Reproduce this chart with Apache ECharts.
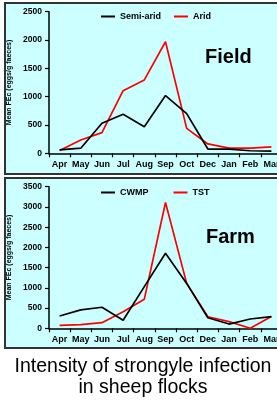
<!DOCTYPE html>
<html>
<head>
<meta charset="utf-8">
<script src="https://cdn.jsdelivr.net/npm/echarts@6/dist/echarts.min.js"></script>
<style>
    html, body {
        margin: 0;
        padding: 0;
        background: #fff;
    }
    #chart {
        width: 277px;
        height: 400px;
    }
</style>
</head>
<body>
<div id="chart"></div>
<script>
// months on both panels (no Nov in the source)
const months = ['Apr', 'May', 'Jun', 'Jul', 'Aug', 'Sep', 'Oct', 'Dec', 'Jan', 'Feb', 'Mar']

// Field panel
const semiArid = [60, 90, 530, 690, 470, 1020, 700, 75, 75, 45, 40]
const arid = [50, 235, 365, 1105, 1295, 1970, 440, 165, 90, 90, 115]

// Farm panel
const cwmp = [305, 455, 520, 200, 1030, 1855, 1110, 260, 105, 230, 290]
const tst = [70, 90, 140, 410, 720, 3110, 1110, 285, 165, 0, 290]

const fieldTicks = { min: 0, max: 2500, interval: 500 }
const farmTicks = { min: 0, max: 3500, interval: 500 }

const font = 'Liberation Sans, Arial, sans-serif'
const panelBg = '#ccffff'

function xAxisCfg(gridIndex) {
    return {
        type: 'category',
        gridIndex: gridIndex,
        data: months,
        boundaryGap: true,
        axisLine: { lineStyle: { color: '#000', width: 1.5 } },
        axisTick: { show: true, length: 4, lineStyle: { color: '#000', width: 1.2 } },
        axisLabel: {
            color: '#000',
            fontFamily: font,
            fontWeight: 'bold',
            fontSize: 9,
            margin: 7,
            interval: 0
        }
    }
}

function yAxisCfg(gridIndex, ticks) {
    return {
        type: 'value',
        gridIndex: gridIndex,
        min: ticks.min,
        max: ticks.max,
        interval: ticks.interval,
        name: 'Mean FEc (eggs/g faeces)',
        nameLocation: 'middle',
        nameGap: 33,
        nameTextStyle: {
            color: '#000',
            fontFamily: font,
            fontWeight: 'bold',
            fontSize: 7
        },
        axisLine: { show: true, lineStyle: { color: '#000', width: 1.5 } },
        axisTick: { show: true, length: 4, lineStyle: { color: '#000', width: 1.2 } },
        axisLabel: {
            color: '#000',
            fontFamily: font,
            fontWeight: 'bold',
            fontSize: 8.5,
            margin: 7,
            formatter: v => String(v) // no thousands separator
        },
        splitLine: { show: false }
    }
}

function lineSeries(name, data, color, idx) {
    return {
        name: name,
        type: 'line',
        xAxisIndex: idx,
        yAxisIndex: idx,
        data: data,
        symbol: 'none',
        lineStyle: { color: color, width: 1.7 },
        itemStyle: { color: color },
        z: color === '#ff0000' ? 3 : 4
    }
}

const legendText = {
    color: '#000',
    fontFamily: font,
    fontWeight: 'bold',
    fontSize: 9
}

const chart = echarts.init(document.getElementById('chart'), null, { renderer: 'canvas' })

const option = {
    backgroundColor: '#fff',
    animation: false,
    grid: [
        { left: 49, top: 11.7, height: 141.6, width: 233, outerBoundsMode: 'none', containLabel: false },
        { left: 49, top: 186.7, height: 141.6, width: 233, outerBoundsMode: 'none', containLabel: false }
    ],
    xAxis: [xAxisCfg(0), xAxisCfg(1)],
    yAxis: [yAxisCfg(0, fieldTicks), yAxisCfg(1, farmTicks)],
    legend: [
        {
            data: ['Semi-arid', 'Arid'],
            left: 101,
            top: 12,
            icon: 'rect',
            itemWidth: 14,
            itemHeight: 2,
            itemGap: 13,
            padding: 0,
            textStyle: legendText
        },
        {
            data: ['CWMP', 'TST'],
            left: 101,
            top: 188,
            icon: 'rect',
            itemWidth: 14,
            itemHeight: 2,
            itemGap: 25,
            padding: 0,
            textStyle: legendText
        }
    ],
    graphic: [
        // panel backgrounds
        {
            type: 'rect',
            z: -10,
            shape: { x: 5, y: 3, width: 290, height: 171 },
            style: { fill: panelBg, stroke: '#333', lineWidth: 2 }
        },
        {
            type: 'rect',
            z: -10,
            shape: { x: 5, y: 178, width: 290, height: 170 },
            style: { fill: panelBg, stroke: '#333', lineWidth: 2 }
        },
        {
            type: 'text',
            left: 205,
            top: 47,
            style: { text: 'Field', fontFamily: font, fontWeight: 'bold', fontSize: 20, fill: '#000' }
        },
        {
            type: 'text',
            left: 206,
            top: 227,
            style: { text: 'Farm', fontFamily: font, fontWeight: 'bold', fontSize: 20, fill: '#000' }
        },
        {
            type: 'text',
            x: 143,
            y: 356,
            style: {
                text: 'Intensity of strongyle infection\nin sheep flocks',
                fontFamily: font,
                fontSize: 19.5,
                lineHeight: 21,
                align: 'center',
                fill: '#000'
            }
        }
    ],
    series: [
        lineSeries('Semi-arid', semiArid, '#000000', 0),
        lineSeries('Arid', arid, '#ff0000', 0),
        lineSeries('CWMP', cwmp, '#000000', 1),
        lineSeries('TST', tst, '#ff0000', 1)
    ]
}

chart.setOption(option)
</script>
</body>
</html>
